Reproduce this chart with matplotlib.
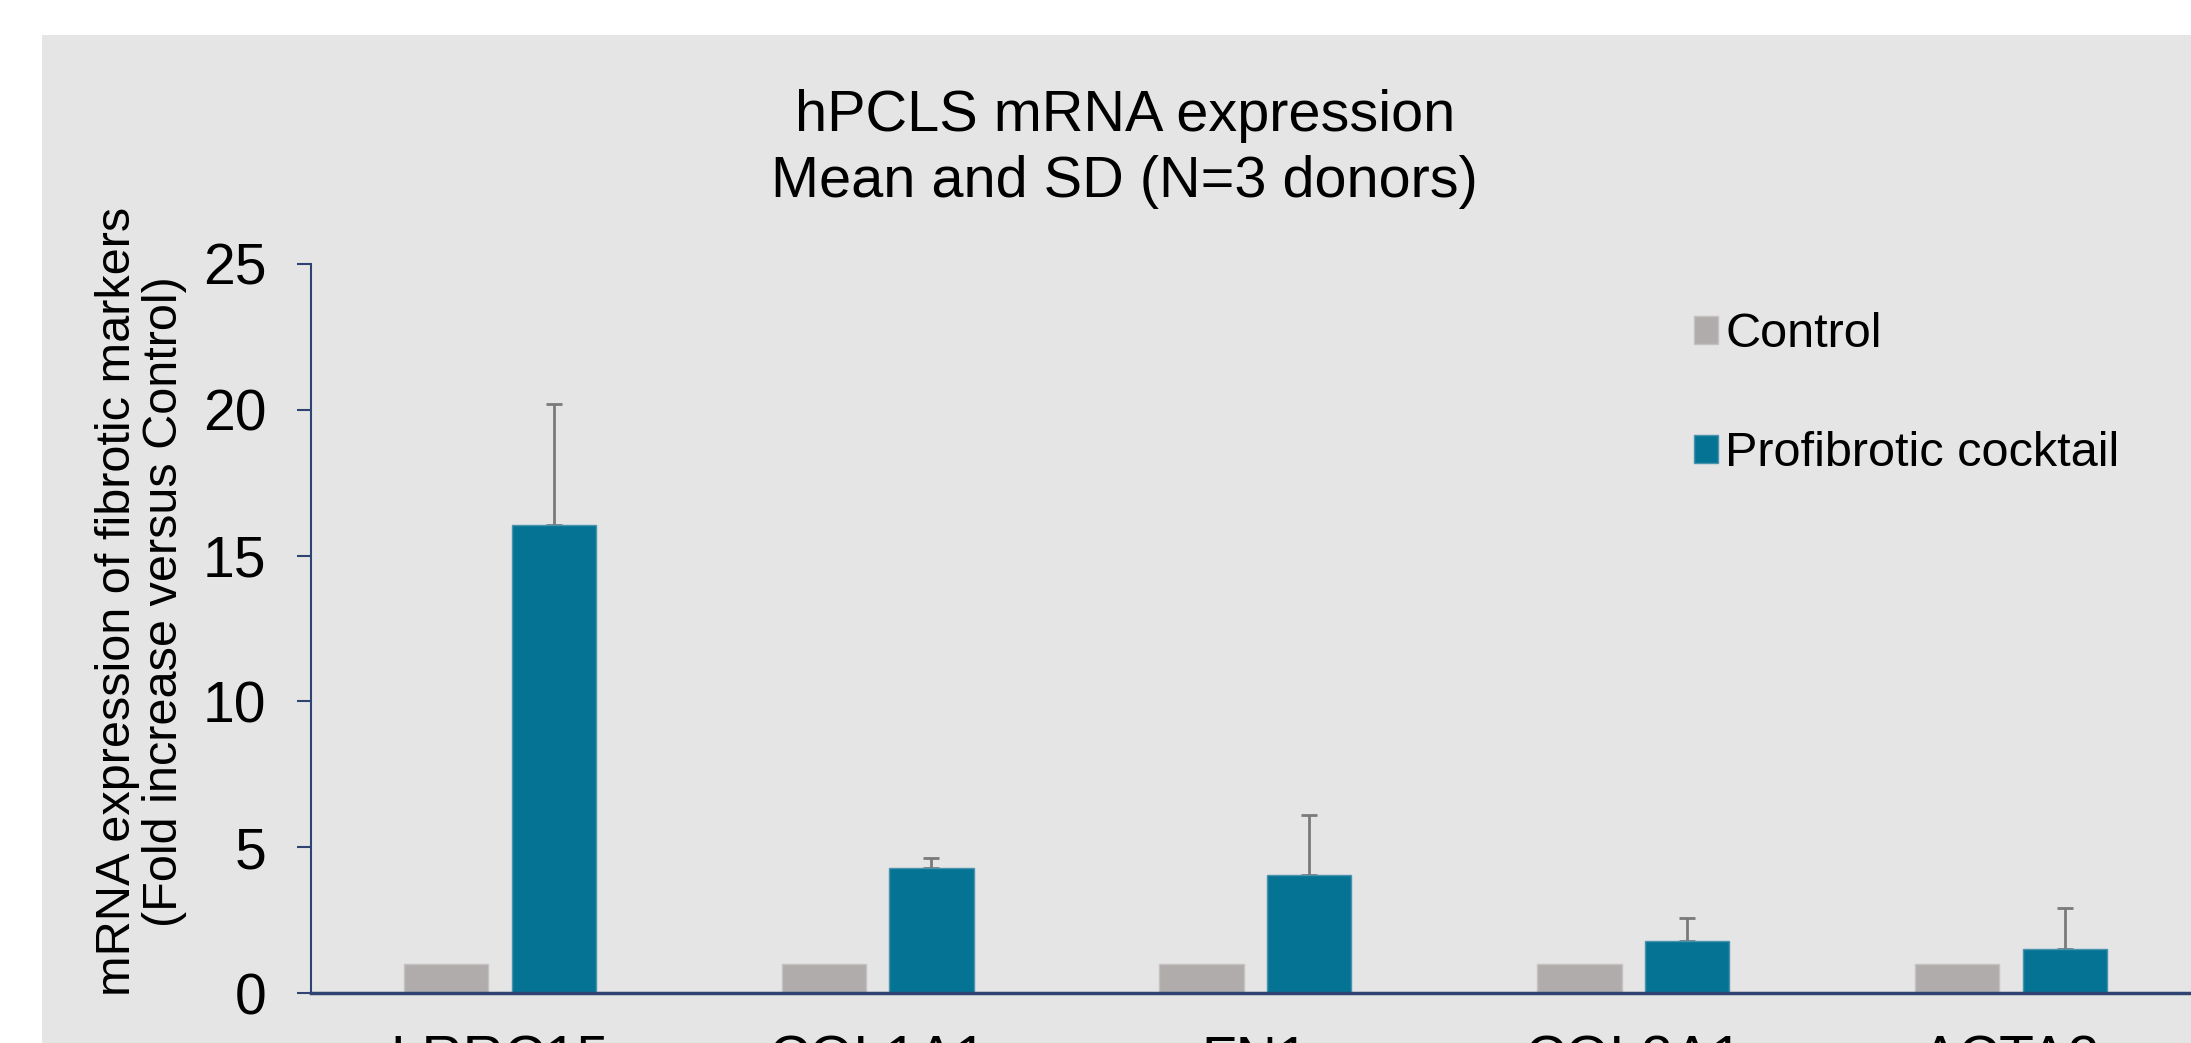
# hPCLS mRNA expression bar chart (Control vs Profibrotic cocktail)

import numpy as np
import matplotlib.pyplot as plt
from matplotlib.patches import Rectangle

plt.rcParams["font.family"] = ["Liberation Sans", "DejaVu Sans"]

# Data
GENES = ["LRRC15", "COL1A1", "FN1", "COL3A1", "ACTA2"]
CONTROL = [1.0, 1.0, 1.0, 1.0, 1.0]
COCKTAIL = [16.05, 4.28, 4.05, 1.78, 1.50]
COCKTAIL_SD = [4.15, 0.35, 2.06, 0.80, 1.41]
Y_TICKS = [0, 5, 10, 15, 20, 25]

# Colors
GRAY = "#B0ACAB"
TEAL = "#057394"
NAVY = "#2E4372"
BACK = "#E5E5E5"

fig = plt.figure(figsize=(21.91, 10.43), dpi=100)

# gray panel behind the chart
fig.patches.append(Rectangle((0.0192, 0), 1, 0.9664, transform=fig.transFigure,
                             facecolor=BACK, edgecolor="none", zorder=-10))

ax = fig.add_axes([0.1419, 0.0479, 0.8622, 0.699])
ax.set_facecolor("none")

x = np.arange(len(GENES))
width = 0.223
offset = 0.1425

ax.bar(x - offset, CONTROL, width, color=GRAY, edgecolor="#C4C1C0", linewidth=1,
       label="Control", zorder=2)
ax.bar(x + offset, COCKTAIL, width, color=TEAL, edgecolor="#4A93AE", linewidth=1,
       label="Profibrotic cocktail", zorder=2)
ax.errorbar(x + offset, COCKTAIL, yerr=[np.zeros(len(COCKTAIL_SD)), COCKTAIL_SD],
            fmt="none", ecolor="#7A7A7A", elinewidth=2, capsize=6, capthick=2, zorder=1)

ax.set_xlim(-0.5, len(GENES) - 0.5)
ax.set_ylim(0, 25)
ax.set_yticks(Y_TICKS)
ax.set_xticks(x)
ax.set_xticklabels(GENES)

ax.spines["top"].set_visible(False)
ax.spines["right"].set_visible(False)
ax.spines["left"].set_color(NAVY)
ax.spines["bottom"].set_color(NAVY)
ax.spines["left"].set_linewidth(1.5)
ax.spines["bottom"].set_linewidth(2.5)

ax.tick_params(axis="y", direction="out", length=10, width=1.5, color=NAVY,
               labelsize=41, pad=22)
ax.tick_params(axis="x", length=0, labelsize=41, pad=30)

# Titles
fig.text(0.5134, 0.857, "hPCLS mRNA expression\nMean and SD (N=3 donors)",
         ha="center", va="center", fontsize=41.5, linespacing=1.27)
fig.text(0.0645, 0.423, "mRNA expression of fibrotic markers\n(Fold increase versus Control)",
         ha="center", va="center", rotation=90, fontsize=35, linespacing=1.06)

# Legend
ax.legend(loc="upper left", bbox_to_anchor=(0.732, 0.934), frameon=False, fontsize=35,
          handlelength=0.5, handleheight=0.5, handletextpad=0.15, labelspacing=1.52,
          borderaxespad=0, borderpad=0)

plt.savefig("out.png", dpi=100)
